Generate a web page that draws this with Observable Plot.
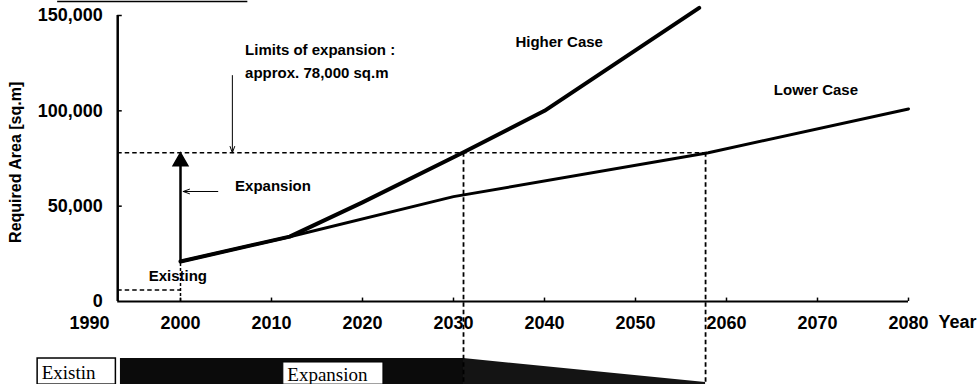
<!DOCTYPE html>
<html><head><meta charset="utf-8">
<script src="https://cdn.jsdelivr.net/npm/d3@7"></script>
<script src="https://cdn.jsdelivr.net/npm/@observablehq/plot@0.6"></script>
<style>
body{margin:0;background:#fff;}
#chart svg{display:block;}
</style>
</head><body><div id="chart"></div>
<script>
// ---- data ----
const higherYears = [2000, 2012, 2020, 2031, 2040, 2057];
const higherCase  = [21000, 34000, 52000, 78000, 100000, 154000];
const lowerYears  = [2000, 2012, 2030, 2058, 2080];
const lowerCase   = [21000, 34000, 55000, 78000, 101000];
const xTickYears  = [1990, 2000, 2010, 2020, 2030, 2040, 2050, 2060, 2070, 2080];
const yTickValues = [0, 50000, 100000, 150000];
const yTickLabels = ["0", "50,000", "100,000", "150,000"];
const limitArea = 78000;       // limits of expansion
const existingArea = 6000;     // existing area
const startArea = 21000;       // required area in 2000
const startYear = 2000;
const higherLimitYear = 2031.1;
const lowerLimitYear = 2057.7;
const axisStartYear = 1993.1;
const axisEndYear = 2080;
// phase bar below the axis (years)
const phaseExistingStart = 1984.3, phaseExistingEnd = 1992.9;
const phaseExpansionStart = 1993.4;
const phaseLabelBoxStart = 2011.3, phaseLabelBoxEnd = 2022.3;
const barTop = -29900, barBottom = -43600, taperEnd = -42500, labelBoxTop = -32000;

const higher = higherYears.map((x, i) => ({x, y: higherCase[i]}));
const lower = lowerYears.map((x, i) => ({x, y: lowerCase[i]}));
const xTicks = xTickYears.map(x => ({x}));
const yTicks = yTickValues.map((y, i) => ({y, label: yTickLabels[i]}));

const sans = "'Liberation Sans', Arial, sans-serif";
const serif = "'Liberation Serif', 'Times New Roman', serif";
const dash = "4.5,3";

const chart = Plot.plot({
  width: 977,
  height: 384,
  marginTop: 0, marginRight: 0, marginBottom: 0, marginLeft: 0,
  x: {type: "linear", domain: [1990, 2080], range: [89, 908], axis: null},
  y: {type: "linear", domain: [0, 150000], range: [301, 15], axis: null},
  style: {fontFamily: sans, background: "#fff", color: "#000"},
  marks: [
    // cut-off box edge at the very top
    Plot.ruleY([157400], {x1: 1986.5, x2: 2007.4, stroke: "#000", strokeWidth: 1.5}),

    // ---- phase bar ----
    Plot.rect([{a: phaseExistingStart, b: phaseExistingEnd}], {x1: "a", x2: "b", y1: barTop, y2: barBottom, fill: "#fff", stroke: "#000", strokeWidth: 1.5}),
    Plot.text(["Existin"], {x: phaseExistingStart, y: (barTop + barBottom) / 2, dx: 4, dy: 1, textAnchor: "start", fontFamily: serif, fontSize: 19, fill: "#000"}),
    Plot.rect([{a: phaseExpansionStart, b: higherLimitYear}], {x1: "a", x2: "b", y1: barTop, y2: barBottom, fill: "#0b0b0b"}),
    Plot.areaY([{x: higherLimitYear, t: barTop}, {x: lowerLimitYear, t: taperEnd}], {x: "x", y1: barBottom, y2: "t", fill: "#141414", curve: "linear"}),
    Plot.rect([{a: phaseLabelBoxStart, b: phaseLabelBoxEnd}], {x1: "a", x2: "b", y1: labelBoxTop, y2: barBottom, fill: "#fff", stroke: "#000", strokeWidth: 1}),
    Plot.text(["Expansion"], {x: phaseLabelBoxStart, y: (labelBoxTop + barBottom) / 2, dx: 4, dy: 1, textAnchor: "start", fontFamily: serif, fontSize: 19, fill: "#000"}),

    // ---- dashed guide lines ----
    Plot.ruleY([limitArea], {x1: axisStartYear, x2: lowerLimitYear, stroke: "#000", strokeWidth: 1.6, strokeDasharray: dash}),
    Plot.ruleX([higherLimitYear, lowerLimitYear], {y1: limitArea, y2: barBottom, stroke: "#000", strokeWidth: 1.8, strokeDasharray: dash}),
    Plot.ruleY([existingArea], {x1: axisStartYear, x2: startYear, stroke: "#000", strokeWidth: 1.6, strokeDasharray: dash}),
    Plot.ruleX([startYear], {y1: 0, y2: startArea, stroke: "#000", strokeWidth: 1.5, strokeDasharray: "3,2"}),

    // ---- axes ----
    Plot.ruleY([0], {x1: axisStartYear, x2: axisEndYear, stroke: "#000", strokeWidth: 2}),
    Plot.ruleX([axisStartYear], {y1: 0, y2: 150000, stroke: "#000", strokeWidth: 2.5}),
    Plot.ruleX(xTicks.filter(d => d.x >= 2000), {x: "x", y1: 0, y2: 1800, stroke: "#000", strokeWidth: 1.5}),
    Plot.text(xTicks, {x: "x", y: 0, dy: 22, text: d => String(d.x), fontSize: 18, fontWeight: "bold", fill: "#000"}),
    Plot.text(["Year"], {x: axisEndYear, y: 0, dx: 30, dy: 21, textAnchor: "start", fontSize: 18, fontWeight: "bold", fill: "#000"}),
    Plot.ruleY(yTicks.filter(d => d.y > 0), {y: "y", x1: axisStartYear, x2: axisStartYear + 0.5, stroke: "#000", strokeWidth: 1.5}),
    Plot.text(yTicks, {x: axisStartYear, y: "y", dx: -15, text: "label", textAnchor: "end", fontSize: 18, fontWeight: "bold", fill: "#000"}),
    Plot.text(["Required Area [sq.m]"], {x: 1990, y: 73000, dx: -74, rotate: -90, fontSize: 16, fontWeight: "bold", fill: "#000"}),

    // ---- arrows ----
    Plot.ruleX([startYear], {y1: startArea, y2: limitArea - 3000, stroke: "#000", strokeWidth: 2.5}),
    Plot.dot([{x: startYear, y: limitArea - 4500}], {x: "x", y: "y", symbol: "triangle", r: 5.5, fill: "#000", stroke: "#000"}),
    Plot.arrow([{x1: 2005.7, y1: 118500, x2: 2005.7, y2: limitArea}], {x1: "x1", y1: "y1", x2: "x2", y2: "y2", stroke: "#000", strokeWidth: 1, headLength: 10, headAngle: 40}),
    Plot.arrow([{x1: 2004.1, y1: 57700, x2: 2000.3, y2: 57700}], {x1: "x1", y1: "y1", x2: "x2", y2: "y2", stroke: "#000", strokeWidth: 1, headLength: 10, headAngle: 40}),

    // ---- scenario lines ----
    Plot.line(lower, {x: "x", y: "y", stroke: "#000", strokeWidth: 3}),
    Plot.line(higher, {x: "x", y: "y", stroke: "#000", strokeWidth: 4}),

    // ---- annotation texts ----
    Plot.text(["Limits of expansion :"], {x: 2007.1, y: 131600, textAnchor: "start", fontSize: 15, fontWeight: "bold", fill: "#000"}),
    Plot.text(["approx. 78,000 sq.m"], {x: 2007.1, y: 119500, textAnchor: "start", fontSize: 15, fontWeight: "bold", fill: "#000"}),
    Plot.text(["Expansion"], {x: 2006.0, y: 60300, textAnchor: "start", fontSize: 15, fontWeight: "bold", fill: "#000"}),
    Plot.text(["Existing"], {x: 1996.5, y: 13100, textAnchor: "start", fontSize: 15, fontWeight: "bold", fill: "#000"}),
    Plot.text(["Higher Case"], {x: 2036.8, y: 136000, textAnchor: "start", fontSize: 15, fontWeight: "bold", fill: "#000"}),
    Plot.text(["Lower Case"], {x: 2065.2, y: 110600, textAnchor: "start", fontSize: 15, fontWeight: "bold", fill: "#000"})
  ]
});
document.getElementById("chart").appendChild(chart);
</script>
</body></html>
